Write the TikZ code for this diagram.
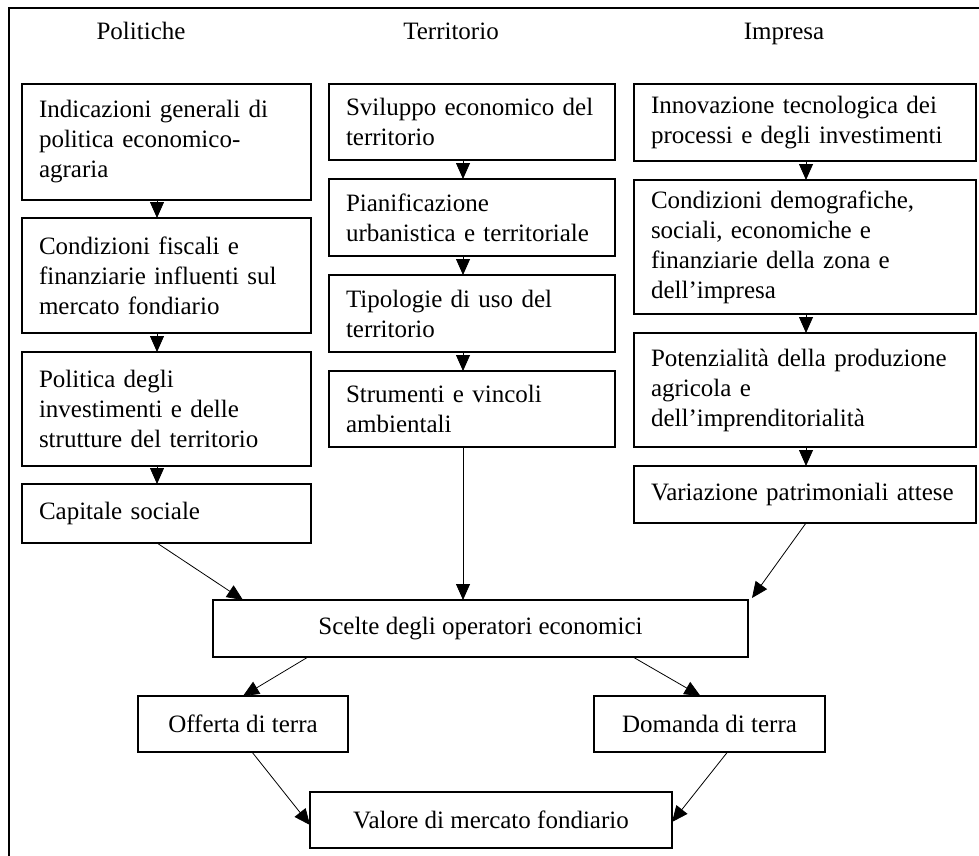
\documentclass[tikz,border=0pt]{standalone}
\usepackage{fontspec}
\setmainfont{Liberation Serif}
\usetikzlibrary{arrows.meta, positioning, calc}

\begin{document}
\begin{tikzpicture}[x=1pt, y=-1pt, every node/.style={font=\fontsize{25}{30}\selectfont}]
    \tikzset{
      colbox/.style={rectangle, draw, line width=1.2pt, anchor=north west,
                     align=left, inner xsep=17pt, inner ysep=0pt, outer sep=0pt},
      polcol/.style={colbox, text width=255pt},
      tercol/.style={colbox, text width=252pt},
      impcol/.style={colbox, text width=308pt},
      midbox/.style={rectangle, draw, line width=1.2pt, anchor=north west,
                     align=center, inner sep=0pt, outer sep=0pt, minimum height=57pt},
      coltitle/.style={anchor=base},
      flow/.style={-{Triangle[length=16pt, width=14pt]}, line width=0.8pt}}
    \useasboundingbox (0,0) rectangle (979,855);
    \clip (0,0) rectangle (979,855);
    % outer frame
    \draw[line width=2pt] (9,880) -- (9,8) -- (1000,8);
    % column titles
    \node[coltitle] (hpol) at (141,39) {Politiche};
    \node[coltitle] (hter) at (451,39) {Territorio};
    \node[coltitle] (himp) at (784,39) {Impresa};
    % Politiche
    \node[polcol, minimum height=116pt] (pol1) at (22,84)  {Indicazioni generali di\\politica economico-\\agraria};
    \node[polcol, minimum height=115pt] (pol2) at (22,218) {Condizioni fiscali e\\finanziarie influenti sul\\mercato fondiario};
    \node[polcol, minimum height=114pt] (pol3) at (22,352) {Politica degli\\investimenti e delle\\strutture del territorio};
    \node[polcol, minimum height=59pt]  (pol4) at (22,484) {Capitale sociale};
    % Territorio
    \node[tercol, minimum height=76pt] (ter1) at (329,84)  {Sviluppo economico del\\territorio};
    \node[tercol, minimum height=77pt] (ter2) at (329,179) {Pianificazione\\urbanistica e territoriale};
    \node[tercol, minimum height=77pt] (ter3) at (329,275) {Tipologie di uso del\\territorio};
    \node[tercol, minimum height=76pt] (ter4) at (329,371) {Strumenti e vincoli\\ambientali};
    % Impresa
    \node[impcol, minimum height=77pt]  (imp1) at (634,84)  {Innovazione tecnologica dei\\processi e degli investimenti};
    \node[impcol, minimum height=134pt] (imp2) at (634,180) {Condizioni demografiche,\\sociali, economiche e\\finanziarie della zona e\\dell'impresa};
    \node[impcol, minimum height=114pt] (imp3) at (634,333) {Potenzialità della produzione\\agricola e\\dell'imprenditorialità};
    \node[impcol, minimum height=57pt]  (imp4) at (634,466) {Variazione patrimoniali attese};
    % lower part
    \node[midbox, minimum width=535pt] (scelte)  at (213,600) {Scelte degli operatori economici};
    \node[midbox, minimum width=210pt, minimum height=56pt] (offerta) at (138,696) {Offerta di terra};
    \node[midbox, minimum width=231pt, minimum height=56pt] (domanda) at (594,696) {Domanda di terra};
    \node[midbox, minimum width=362pt, minimum height=56pt] (valore)  at (310,792) {Valore di mercato fondiario};
    % arrows
    \coordinate (paxis) at (157,0);
    \coordinate (taxis) at (463,0);
    \coordinate (iaxis) at (806,0);
    \foreach \a/\b in {pol1/pol2, pol2/pol3, pol3/pol4}
      \draw[flow] (\a.south -| paxis) -- (\b.north -| paxis);
    \foreach \a/\b in {ter1/ter2, ter2/ter3, ter3/ter4}
      \draw[flow] (\a.south -| taxis) -- (\b.north -| taxis);
    \foreach \a/\b in {imp1/imp2, imp2/imp3, imp3/imp4}
      \draw[flow] (\a.south -| iaxis) -- (\b.north -| iaxis);
    \draw[flow] (pol4.south -| paxis) -- ($(scelte.north west)+(30,0)$);
    \draw[flow] (ter4.south -| taxis) -- (scelte.north -| taxis);
    \draw[flow] (imp4.south -| iaxis) -- ($(scelte.north east)+(4,-2)$);
    \draw[flow] ($(scelte.south west)+(95,0)$) -- (offerta.north);
    \draw[flow] ($(scelte.south west)+(420,0)$) -- ($(domanda.north)+(-9,0)$);
    \draw[flow] ($(offerta.south)+(9,0)$) -- ($(valore.west)+(0,5)$);
    \draw[flow] ($(domanda.south)+(18,0)$) -- ($(valore.east)+(0,2)$);
  \end{tikzpicture}
\end{document}
